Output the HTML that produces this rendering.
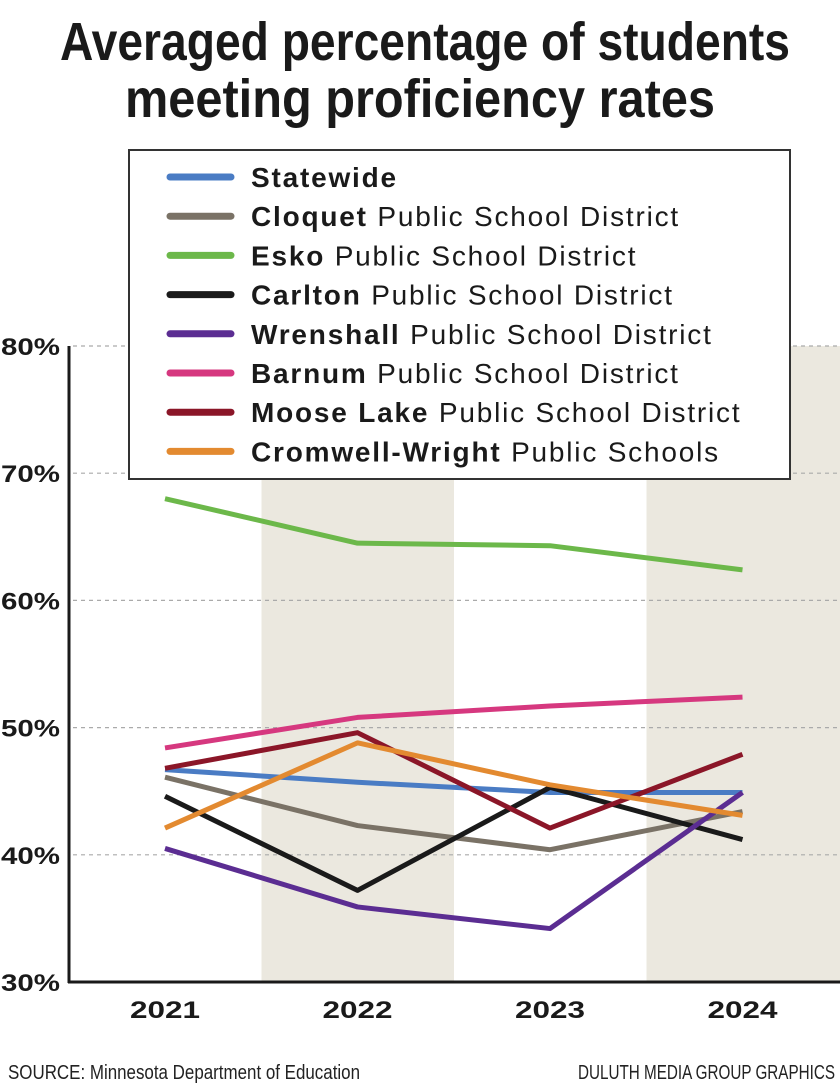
<!DOCTYPE html>
<html><head><meta charset="utf-8"><style>
body{margin:0;background:#fff;width:840px;height:1086px;overflow:hidden;font-family:"Liberation Sans",sans-serif}
</style></head><body>
<svg id="chart" width="840" height="1086" style="position:absolute;left:0;top:0"></svg>
<script>
const years=["2021","2022","2023","2024"];
const yTicks=[30,40,50,60,70,80];
const seriesNames=["Statewide","Cloquet","Esko","Carlton","Wrenshall","Barnum","Moose Lake","Cromwell-Wright"];
const seriesSuffix=["","Public School District","Public School District","Public School District","Public School District","Public School District","Public School District","Public Schools"];
const statewide=[46.7,45.7,44.9,44.9];
const cloquet=[46.1,42.3,40.4,43.4];
const esko=[68.0,64.5,64.3,62.4];
const carlton=[44.6,37.2,45.3,41.2];
const wrenshall=[40.5,35.9,34.2,44.9];
const barnum=[48.4,50.8,51.7,52.4];
const mooseLake=[46.8,49.6,42.1,47.9];
const cromwell=[42.1,48.8,45.5,43.1];
const colors=["#4a7cc4","#7a7266","#6cb84a","#1a1a1a","#5b2d92","#d6387f","#8b1628","#e38a30"];
const allSeries=[statewide,cloquet,esko,carlton,wrenshall,barnum,mooseLake,cromwell];
const svg=document.getElementById('chart');
const NS='http://www.w3.org/2000/svg';
function mk(t,a,p){const e=document.createElementNS(NS,t);for(const k in a)e.setAttribute(k,a[k]);(p||svg).appendChild(e);return e;}
const y=v=>982-(v-30)*12.72;
const x=i=>165+i*192.5;
// title
const t1=mk('text',{x:60,y:60,'font-size':54,'font-weight':'bold',fill:'#1a1a1a',textLength:730,lengthAdjust:'spacingAndGlyphs'});
t1.textContent='Averaged percentage of students';

const t2=mk('text',{x:125,y:117,'font-size':54,'font-weight':'bold',fill:'#1a1a1a',textLength:590,lengthAdjust:'spacingAndGlyphs'});
t2.textContent='meeting proficiency rates';

// bands
[1,3].forEach(i=>{const r=mk('rect',{x:x(i)-96,y:346,width:i==3?200:192.5,height:636,fill:'#ebe8df'});
});
yTicks.forEach(t=>{
 if(t>30){const g=mk('line',{x1:73,x2:840,y1:y(t),y2:y(t),stroke:'#aaa','stroke-width':1.2,'stroke-dasharray':'4 4'});
 }
 const l=mk('text',{x:1,y:y(t)+9,'font-size':24,'font-weight':'bold',fill:'#1a1a1a',textLength:59,lengthAdjust:'spacingAndGlyphs'});l.textContent=t+'%';
 
});
years.forEach((yr,i)=>{const l=mk('text',{x:x(i)-35,y:1018,'font-size':24,'font-weight':'bold',fill:'#1a1a1a',textLength:70,lengthAdjust:'spacingAndGlyphs'});l.textContent=yr;
});
const ya=mk('line',{x1:69,x2:69,y1:346,y2:983,stroke:'#1a1a1a','stroke-width':3});

const xa=mk('line',{x1:68,x2:840,y1:982,y2:982,stroke:'#1a1a1a','stroke-width':3});

allSeries.forEach((s,k)=>{const p=mk('polyline',{points:s.map((v,i)=>x(i)+','+y(v)).join(' '),fill:'none',stroke:colors[k],'stroke-width':5,'stroke-linejoin':'round'});
});
// legend
const lg=mk('g',{});
mk('rect',{x:129,y:150,width:661,height:329,fill:'#fff',stroke:'#333','stroke-width':2},lg);
seriesNames.forEach((n,k)=>{const yy=177+k*39.2;
 const g=mk('g',{},lg);
 mk('line',{x1:170,x2:231,y1:yy,y2:yy,stroke:colors[k],'stroke-width':7,'stroke-linecap':'round'},g);
 const t=mk('text',{x:251,y:yy+10,'font-size':28,fill:'#1a1a1a','letter-spacing':1.8},g);
 const b=mk('tspan',{'font-weight':'bold'},t);b.textContent=n;
 if(seriesSuffix[k]){const s=mk('tspan',{},t);s.textContent=' '+seriesSuffix[k];}
});
// footer
const f1=mk('text',{x:8,y:1079,'font-size':20,fill:'#222',textLength:352,lengthAdjust:'spacingAndGlyphs'});
f1.textContent='SOURCE: Minnesota Department of Education';

const f2=mk('text',{x:578,y:1079,'font-size':20,fill:'#222',textLength:257,lengthAdjust:'spacingAndGlyphs'});
f2.textContent='DULUTH MEDIA GROUP GRAPHICS';

</script>
</body></html>
